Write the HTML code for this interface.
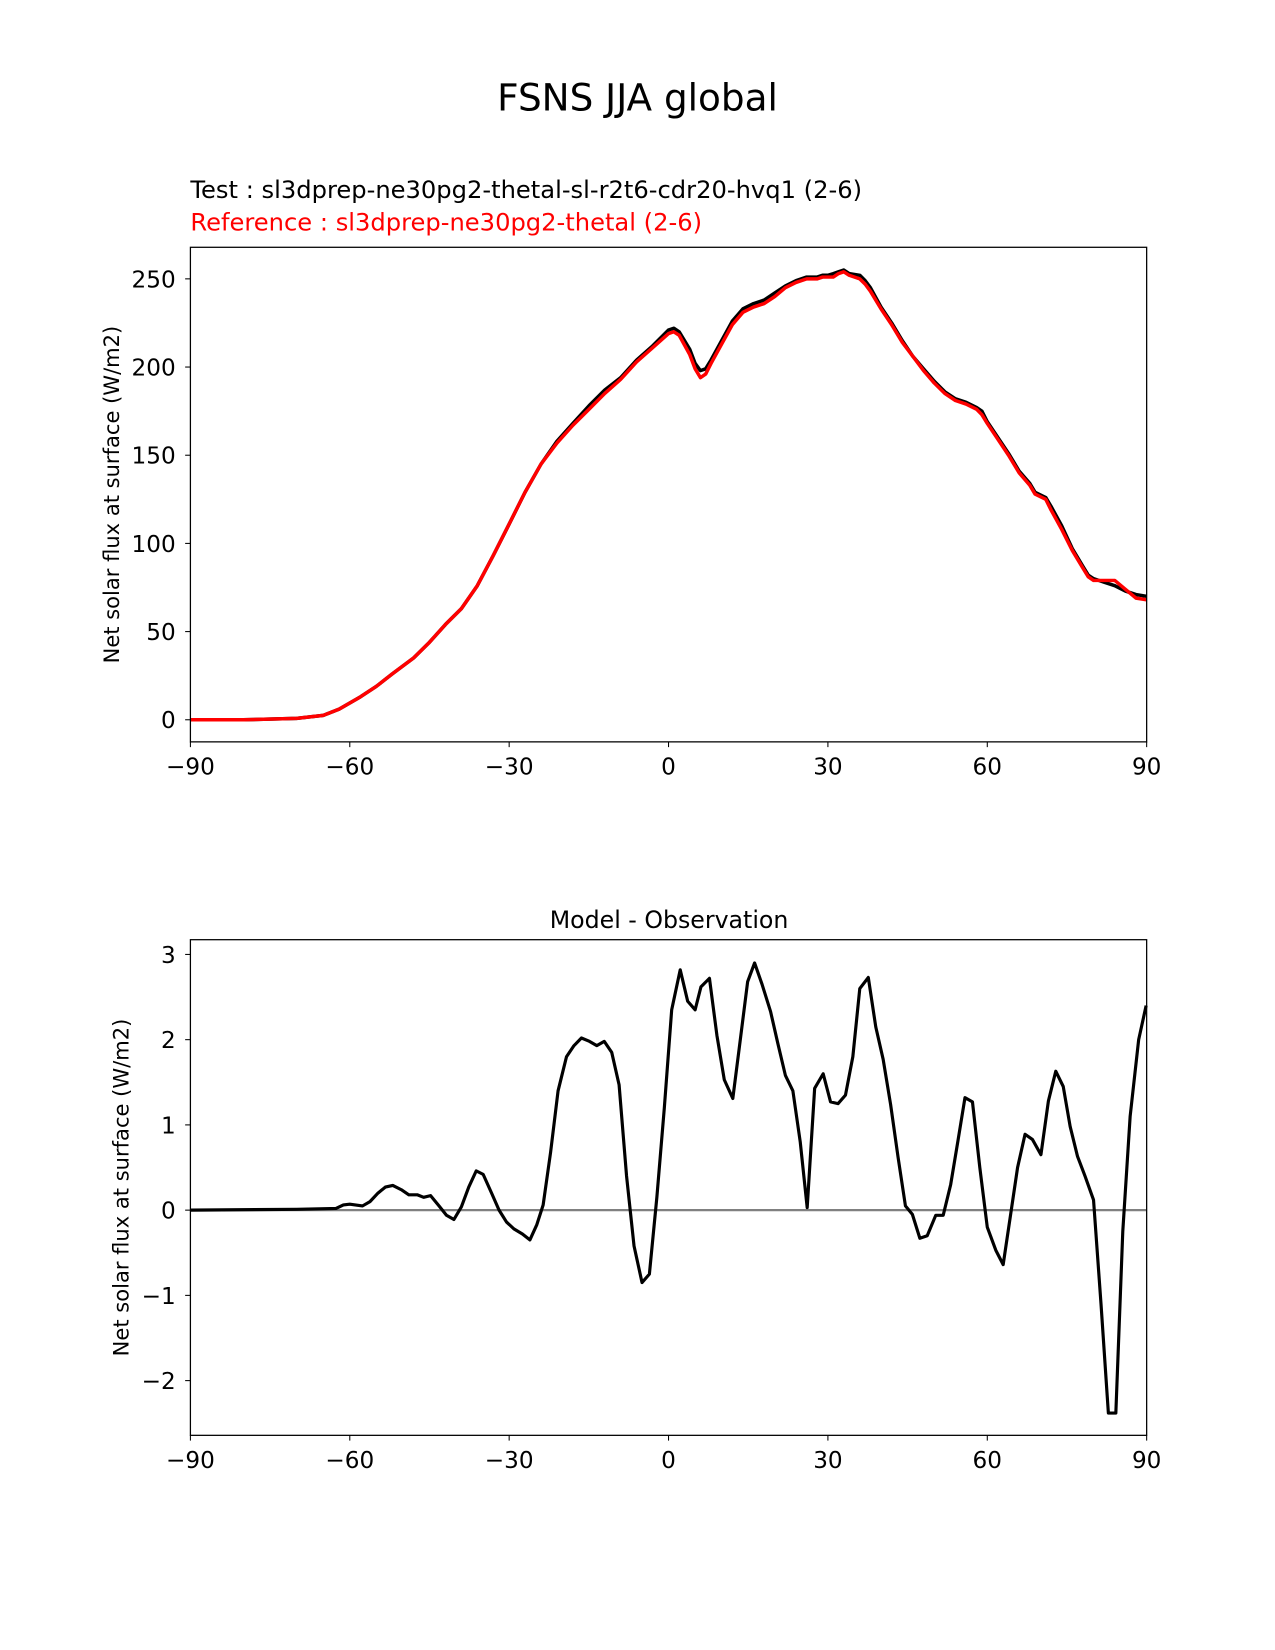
<!DOCTYPE html>
<html><head><meta charset="utf-8">
<style>
body{margin:0;background:#fff;}
svg{display:block;font-family:"DejaVu Sans","Liberation Sans",sans-serif;}
</style></head>
<body>
<svg id="fig" width="1275" height="1650" viewBox="0 0 1212 1568" preserveAspectRatio="none" xmlns="http://www.w3.org/2000/svg">
<rect width="1212" height="1568" fill="#fff"/>
<text x="606" y="105" font-size="35.5" text-anchor="middle">FSNS JJA global</text>
<text x="181" y="188" font-size="23">Test : sl3dprep-ne30pg2-thetal-sl-r2t6-cdr20-hvq1 (2-6)</text>
<text x="181" y="219" font-size="23" fill="#ff0000">Reference : sl3dprep-ne30pg2-thetal (2-6)</text>
<text x="636" y="882" font-size="22.5" text-anchor="middle">Model - Observation</text>
<g id="top"></g>
<g id="bot"></g>
</svg>
<script>
const topLat = [-90,-80,-70,-65,-62,-58,-55,-52,-48,-45,-42,-39,-36,-33,-30,-27,-24,-21,-18,-15,-12,-9,-6,-3,0,1,2,4,5,6,7,8,10,12,14,16,18,20,22,24,26,28,29,30,31,32,33,34,36,37,38,40,42,44,46,48,50,52,54,56,58,59,60,62,64,66,68,69,71,72,74,76,78,79,80,82,84,86,88,90];
const testVals = [0,0,0.8,2.5,6,13,19,26,35,44,54,63,76,93,111,129,145,158,168,178,187,194,204,212,221,222,220,210,202,198,199,204,215,226,233,236,238,242,246,249,251,251,252,252,253,254,255,253,252,249,245,234,225,215,206,199,192,186,182,180,177,175,169,160,151,141,134,129,126,121,110,97,87,82,80,78,76,73,71,70];
const refVals = [0,0,0.8,2.5,6,13,19,26,35,44,54,63,76,93,111,129,145,157,167,176,185,193,203,211,219,220,218,207,199,194,196,202,213,224,231,234,236,240,245,248,250,250,251,251,251,253,254,252,250,247,243,233,224,214,206,198,191,185,181,179,176,173,168,159,150,140,133,128,125,119,108,96,86,81,79,79,79,74,69,68];
const diffLat = [-90,-70,-62.6,-61.2,-60.0,-57.6,-56.2,-54.7,-53.3,-51.9,-50.3,-48.9,-47.3,-46.1,-44.8,-43.2,-41.8,-40.4,-39.0,-37.6,-36.2,-34.9,-33.3,-31.9,-30.5,-29.1,-27.5,-26.1,-24.8,-23.6,-22.2,-20.8,-19.2,-17.8,-16.4,-14.9,-13.5,-12.1,-10.7,-9.3,-7.9,-6.5,-5.0,-3.6,-2.2,-0.8,0.6,2.2,3.6,5.0,6.1,7.7,9.1,10.5,12.1,13.3,14.9,16.2,17.6,19.2,20.6,22.0,23.4,24.8,26.1,27.5,29.1,30.5,31.9,33.3,34.7,36.0,37.6,39.0,40.4,41.8,43.2,44.6,45.9,47.3,48.7,50.3,51.7,53.1,54.5,55.8,57.2,58.6,60.0,61.6,63.0,64.4,65.7,67.1,68.5,70.1,71.5,72.9,74.3,75.6,77.0,78.4,80.0,81.4,82.8,84.2,85.5,86.9,88.5,89.9];
const diffVals = [0,0.01,0.02,0.06,0.07,0.05,0.1,0.2,0.27,0.29,0.24,0.18,0.18,0.15,0.17,0.05,-0.06,-0.11,0.04,0.27,0.46,0.42,0.2,0.0,-0.14,-0.22,-0.28,-0.35,-0.17,0.06,0.68,1.4,1.8,1.93,2.02,1.98,1.93,1.98,1.85,1.47,0.4,-0.42,-0.85,-0.75,0.15,1.2,2.35,2.82,2.45,2.35,2.62,2.72,2.05,1.53,1.31,1.9,2.68,2.9,2.65,2.33,1.95,1.58,1.4,0.8,0.03,1.43,1.6,1.27,1.25,1.35,1.8,2.6,2.73,2.15,1.77,1.24,0.62,0.05,-0.05,-0.33,-0.3,-0.06,-0.06,0.3,0.82,1.32,1.27,0.5,-0.2,-0.47,-0.64,-0.05,0.5,0.89,0.83,0.65,1.28,1.63,1.45,0.98,0.63,0.4,0.12,-1.1,-2.38,-2.38,-0.25,1.1,2.0,2.4];
const xTicks = [-90,-60,-30,0,30,60,90];
const xTickLabels = ["\u221290","\u221260","\u221230","0","30","60","90"];
const topYTicks = [0,50,100,150,200,250];
const botYTicks = [-2,-1,0,1,2,3];
const botYTickLabels = ["\u22122","\u22121","0","1","2","3"];

const NS="http://www.w3.org/2000/svg";
function mk(tag, attrs, parent){const e=document.createElementNS(NS,tag);for(const k in attrs)e.setAttribute(k,attrs[k]);parent.appendChild(e);return e;}
const X0=181,X1=1090;
const xs = v => X0 + (v+90)/180*(X1-X0);

function drawAxes(g, top, bottom, ys, yTicks, yLabels, yTitle, ycenter){
  xTicks.forEach((t,i)=>{
    const tk=mk('line',{x1:xs(t),x2:xs(t),y1:bottom,y2:bottom+5,stroke:'#000','stroke-width':1},g);
    
    
    const lb=mk('text',{x:xs(t),y:bottom+31,'font-size':22,'text-anchor':'middle'},g);
    lb.textContent=xTickLabels[i];
    
    
  });
  yTicks.forEach((t,i)=>{
    const tk=mk('line',{x1:X0-5,x2:X0,y1:ys(t),y2:ys(t),stroke:'#000','stroke-width':1},g);
    
    
    const lb=mk('text',{x:X0-14,y:ys(t)+8,'font-size':22,'text-anchor':'end'},g);
    lb.textContent=yLabels[i];
    
    
  });
  const tt=mk('text',{x:0,y:0,'font-size':20,'text-anchor':'middle',transform:`translate(${ycenter},${(top+bottom)/2}) rotate(-90)`},g);
  tt.textContent=yTitle;
  
  
}
function drawLine(g, lats, vals, ys, color, w, name){
  const d=lats.map((l,i)=>(i?'L':'M')+xs(l).toFixed(1)+','+ys(vals[i]).toFixed(1)).join(' ');
  const p=mk('path',{d:d,fill:'none',stroke:color,'stroke-width':w,'stroke-linejoin':'round'},g);
  
  
}
function frame(g,top,bottom){
  const r=mk('rect',{x:X0,y:top,width:X1-X0,height:bottom-top,fill:'none',stroke:'#000','stroke-width':1.2},g);
  
  
}

const gt=document.getElementById('top');
const ysT = v => 684 - v*(684-265)/250;
drawAxes(gt,235,705,ysT,topYTicks,topYTicks.map(String),'Net solar flux at surface (W/m2)',113);
drawLine(gt,topLat,testVals,ysT,'#000',3.3,'test-line');
drawLine(gt,topLat,refVals,ysT,'#ff0000',3.3,'reference-line');
frame(gt,235,705);

const gb=document.getElementById('bot');
const ysB = v => 1150 - v*(1150-907)/3;
drawAxes(gb,893,1364,ysB,botYTicks,botYTickLabels,'Net solar flux at surface (W/m2)',122);
const zl=mk('line',{x1:X0,x2:X1,y1:ysB(0),y2:ysB(0),stroke:'#808080','stroke-width':2.2},gb);


drawLine(gb,diffLat,diffVals,ysB,'#000',3,'difference-line');
frame(gb,893,1364);
</script>
</body></html>
